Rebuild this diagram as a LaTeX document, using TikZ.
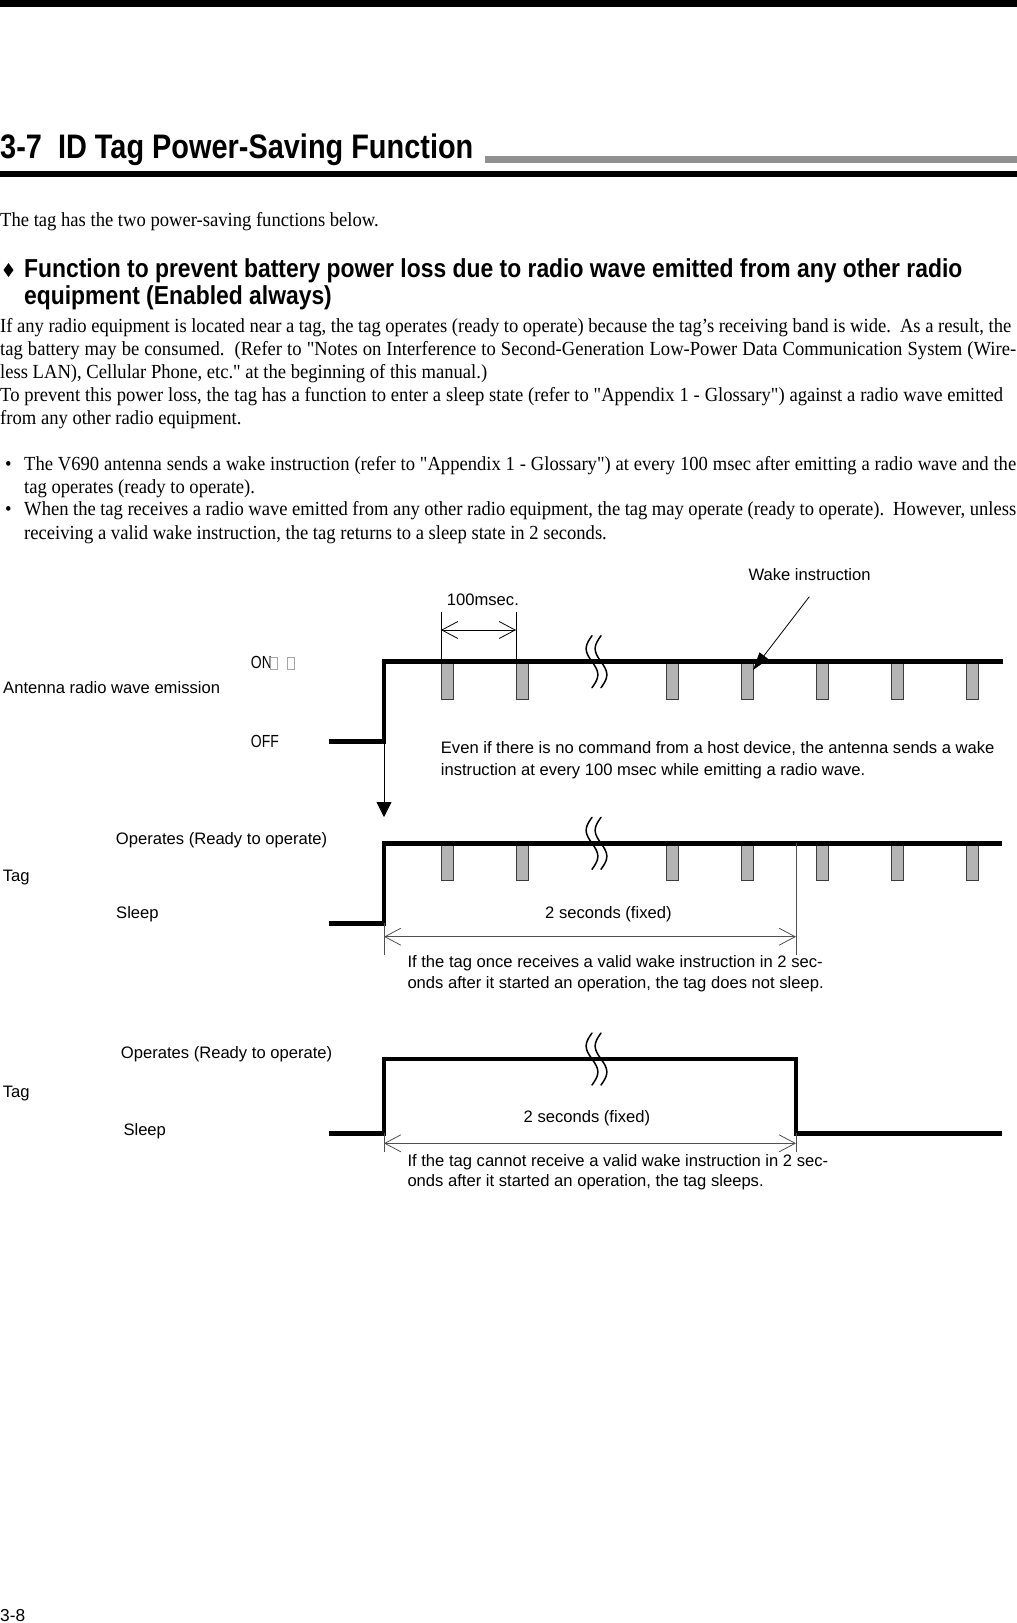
\documentclass[tikz,border=0pt]{standalone}
\usepackage{fontspec}
\usetikzlibrary{arrows.meta}
\newfontfamily\bodyfont{Liberation Serif}[FakeStretch=0.93]
\newfontfamily\titlefont{Liberation Sans}[FakeStretch=0.85]
\newfontfamily\headfont{Liberation Sans}[FakeStretch=0.88]
\newfontfamily\labelfont{Liberation Sans}
\newfontfamily\onofffont{Liberation Sans}[FakeStretch=0.8]
\definecolor{barGray}{RGB}{144,144,144}
\definecolor{pulseFill}{RGB}{180,180,180}
\definecolor{pulseLine}{RGB}{60,60,60}
\definecolor{dimGray}{RGB}{80,80,80}
\tikzset{
  sig/.style={line width=4.6pt, line join=miter, line cap=butt},
  pulse/.style={fill=pulseFill, draw=pulseLine, line width=0.9pt},
  brk/.style={line width=1.5pt, line cap=round, line join=round},
  extline/.style={draw=dimGray, line width=0.8pt},
  dimarrow/.style={draw=dimGray, line width=0.8pt,
    {Straight Barb[length=16pt,width=17pt]}-{Straight Barb[length=16pt,width=17pt]}},
  msarrow/.style={draw=black, line width=0.8pt,
    {Straight Barb[length=16pt,width=17pt]}-{Straight Barb[length=16pt,width=17pt]}},
  lbl/.style={font=\labelfont\fontsize{16.6}{20}\selectfont, inner sep=0pt, anchor=base west},
  onoff/.style={font=\onofffont\fontsize{17.5}{20}\selectfont, inner sep=0pt, anchor=base west},
  bodytext/.style={font=\bodyfont\fontsize{20}{23}\selectfont, inner sep=0pt, anchor=base west},
  headtext/.style={font=\headfont\bfseries\fontsize{26}{30}\selectfont, inner sep=0pt, anchor=base west},
  titletext/.style={font=\titlefont\bfseries\fontsize{34}{38}\selectfont, inner sep=0pt, anchor=base west},
  breakmark/.pic={
    \draw[brk] plot[domain=-26:26, samples=53, smooth] ({-5.8*sin(180*(\x+26)/26)}, \x);
    \draw[brk] plot[domain=-26:26, samples=53, smooth] ({9-5.8*sin(180*(\x+26)/26)}, \x);
  }
}
\begin{document}
\begin{tikzpicture}[x=1pt,y=-1pt]
\useasboundingbox (0,0) rectangle (1017,1623);
% ---------- page header ----------
\fill (0,0) rectangle (1017,7);
\node[titletext] (title) at (0,158.3) {3-7\ \ ID Tag Power-Saving Function};
\fill[barGray] (485,156) rectangle (1017,162.7);
\fill (0,170.7) rectangle (1017,177.3);
% ---------- text ----------
\node[bodytext] (intro) at (0,226) {The tag has the two power-saving functions below.};
\fill (8.5,263) -- (13.5,270) -- (8.5,277) -- (3.5,270) -- cycle;
\node[headtext] (head1) at (24,277) {Function to prevent battery power loss due to radio wave emitted from any other radio};
\node[headtext] (head2) at (24,304) {equipment (Enabled always)};
\node[bodytext] (p1) at (0,332.5) {\makebox[1011pt][s]{If any radio equipment is located near a tag, the tag operates (ready to operate) because the tag’s receiving band is wide.\ \ As a result, the}};
\node[bodytext] (p2) at (0,355) {\makebox[1016pt][s]{tag battery may be consumed.\ \ (Refer to "Notes on Interference to Second-Generation Low-Power Data Communication System (Wire-}};
\node[bodytext] (p3) at (0,378) {less LAN), Cellular Phone, etc." at the beginning of this manual.)};
\node[bodytext] (p4) at (0,401.5) {\makebox[1003pt][s]{To prevent this power loss, the tag has a function to enter a sleep state (refer to "Appendix 1 - Glossary") against a radio wave emitted}};
\node[bodytext] (p5) at (0,424.5) {from any other radio equipment.};
\node[bodytext] (bul1) at (5,470) {•};
\node[bodytext] (b1) at (24,470) {\makebox[992pt][s]{The V690 antenna sends a wake instruction (refer to "Appendix 1 - Glossary") at every 100 msec after emitting a radio wave and the}};
\node[bodytext] (b2) at (24,493) {tag operates (ready to operate).};
\node[bodytext] (bul2) at (5,515.5) {•};
\node[bodytext] (b3) at (24,515.5) {\makebox[992pt][s]{When the tag receives a radio wave emitted from any other radio equipment, the tag may operate (ready to operate).\ \ However, unless}};
\node[bodytext] (b4) at (24,539.5) {receiving a valid wake instruction, the tag returns to a sleep state in 2 seconds.};
% ---------- diagram: antenna ----------
\node[lbl] (wake) at (748.3,580.5) {Wake instruction};
\node[lbl] (ms) at (446.7,605.5) {100msec.};
\node[onoff] (on) at (250.7,668) {ON};
\draw[gray!70, line width=0.6pt] (270,657) rectangle (277,669);
\draw[gray!70, line width=0.6pt] (287.5,657) rectangle (294,669);
\node[onoff] (off) at (250.7,747.3) {OFF};
\node[lbl] (antenna) at (3,693.5) {Antenna radio wave emission};
\node[lbl] (even1) at (440.7,753.5) {Even if there is no command from a host device, the antenna sends a wake};
\node[lbl] (even2) at (440.7,775.5) {instruction at every 100 msec while emitting a radio wave.};

\coordinate (aLow)  at (329,741.7);
\coordinate (aEdgeB) at (384,741.7);
\coordinate (aEdgeT) at (384,661.7);
\coordinate (aEnd)  at (1002.7,661.7);
\foreach \px in {441,516,666,741,816,891,966}
  \draw[pulse] (\px,661.7) rectangle ++(12.5,37.6);
\draw[sig] (aLow) -- (aEdgeB) -- (aEdgeT) -- (aEnd);
\pic at (592,661.7) {breakmark};
% 100 msec dimension
\coordinate (ms1b) at (441,661.7);
\coordinate (ms1t) at (441,612);
\coordinate (ms2b) at (516,661.7);
\coordinate (ms2t) at (516,612);
\draw[line width=0.8pt] (ms1b) -- (ms1t);
\draw[line width=0.8pt] (ms2b) -- (ms2t);
\draw[msarrow] (441,630) -- (516,630);
% wake instruction leader
\coordinate (wakeStart) at (809.3,596.7);
\coordinate (wakeTip) at (753,670);
\draw[line width=0.8pt, -{Triangle[length=18pt,width=11pt]}] (wakeStart) -- (wakeTip);
% trigger arrow
\coordinate (trigTip) at (384,817);
\draw[line width=0.8pt, -{Triangle[length=15pt,width=15pt]}] (aEdgeB) -- (trigTip);
% ---------- diagram: tag 1 ----------
\node[lbl] (op1) at (115.7,844) {Operates (Ready to operate)};
\node[lbl] (tag1) at (2.7,881) {Tag};
\node[lbl] (sleep1) at (116,918.3) {Sleep};
\node[lbl] (sec1) at (545,918) {2 seconds (fixed)};
\node[lbl] (note1a) at (407.3,967.5) {If the tag once receives a valid wake instruction in 2 sec-};
\node[lbl] (note1b) at (407.3,988.5) {onds after it started an operation, the tag does not sleep.};
\coordinate (t1Low) at (329,923.3);
\coordinate (t1EdgeB) at (384,923.3);
\coordinate (t1EdgeT) at (384,843.3);
\coordinate (t1End) at (1002,843.3);
\foreach \px in {441,516,666,741,816,891,966}
  \draw[pulse] (\px,843.3) rectangle ++(12.5,37.3);
\draw[sig] (t1Low) -- (t1EdgeB) -- (t1EdgeT) -- (t1End);
\pic at (592,843.3) {breakmark};
\coordinate (t1ExtL) at (384,955);
\coordinate (t1ExtRT) at (796,843.3);
\coordinate (t1ExtRB) at (796,955);
\draw[extline] (t1EdgeB) -- (t1ExtL);
\draw[extline] (t1ExtRT) -- (t1ExtRB);
\draw[dimarrow] (384,936.7) -- (796,936.7);
% ---------- diagram: tag 2 ----------
\node[lbl] (op2) at (120.7,1058.3) {Operates (Ready to operate)};
\node[lbl] (tag2) at (2.7,1097) {Tag};
\node[lbl] (sleep2) at (123.3,1135) {Sleep};
\node[lbl] (sec2) at (523.5,1122) {2 seconds (fixed)};
\node[lbl] (note2a) at (407.3,1166.5) {If the tag cannot receive a valid wake instruction in 2 sec-};
\node[lbl] (note2b) at (407.3,1186.5) {onds after it started an operation, the tag sleeps.};
\coordinate (t2Low) at (329,1133.3);
\coordinate (t2EdgeB) at (384,1133.3);
\coordinate (t2EdgeT) at (384,1059);
\coordinate (t2FallT) at (796,1059);
\coordinate (t2FallB) at (796,1133.3);
\coordinate (t2End) at (1002,1133.3);
\draw[sig] (t2Low) -- (t2EdgeB) -- (t2EdgeT) -- (t2FallT) -- (t2FallB) -- (t2End);
\pic at (592,1059) {breakmark};
\coordinate (t2ExtL) at (384,1152);
\coordinate (t2ExtR) at (796,1152);
\draw[extline] (t2EdgeB) -- (t2ExtL);
\draw[extline] (t2FallB) -- (t2ExtR);
\draw[dimarrow] (384,1143.3) -- (796,1143.3);
% ---------- footer ----------
\node[font=\labelfont\fontsize{17.3}{20}\selectfont, inner sep=0pt, anchor=base west] (pageno) at (0,1621) {3-8};
\end{tikzpicture}
\end{document}
